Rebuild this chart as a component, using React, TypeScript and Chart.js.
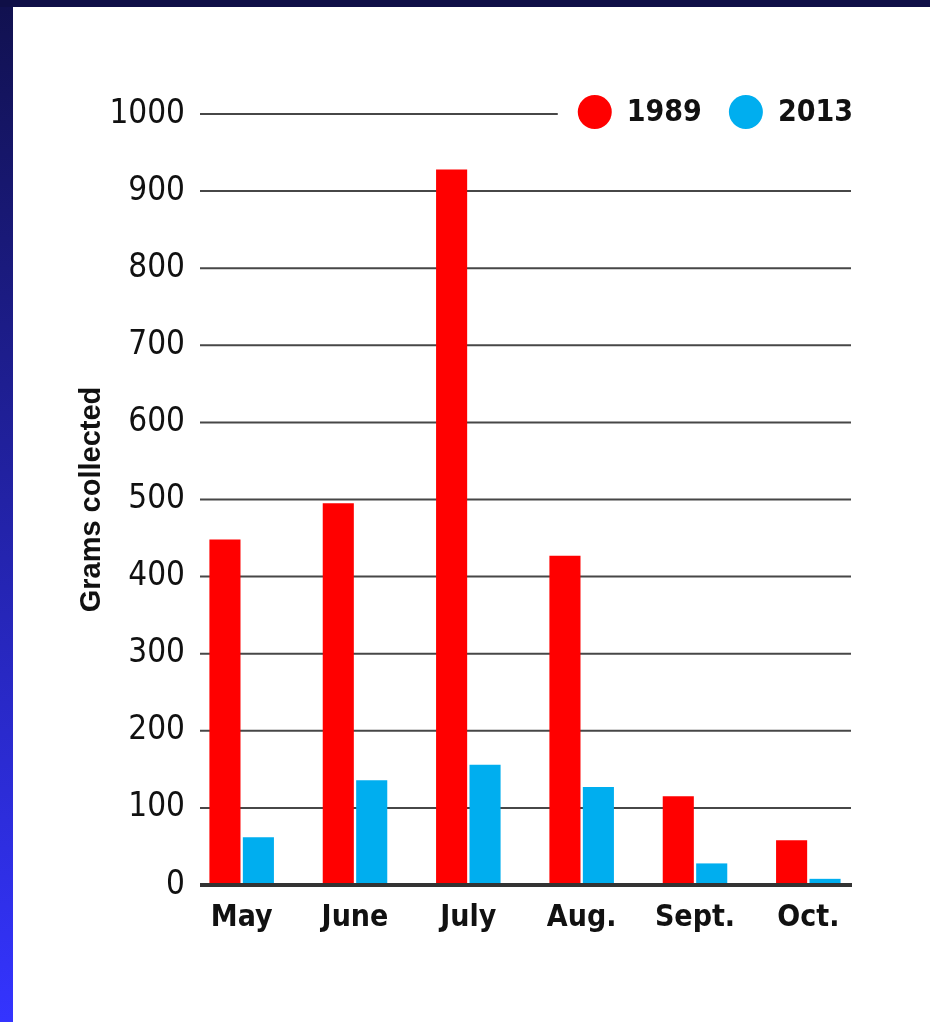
import React, { useEffect, useRef } from "react";
import { Chart, registerables } from "chart.js";

Chart.register(...registerables);

// ---- data ----
const months = ["May", "June", "July", "Aug.", "Sept.", "Oct."];
const seriesNames = ["1989", "2013"];
const grams1989 = [448, 495, 928, 427, 115, 58];
const grams2013 = [62, 136, 156, 127, 28, 8];
const yTickValues = [0, 100, 200, 300, 400, 500, 600, 700, 800, 900, 1000];
const yAxisTitle = "Grams collected";

// ---- style ----
const seriesColors = ["#ff0000", "#00aeef"];
const NARROW = "'Liberation Sans Narrow', 'DejaVu Sans Condensed', 'Liberation Sans', Arial, sans-serif";
const SANS = "'Liberation Sans', Arial, sans-serif";
const GRID_INSET_LEFT = 15;
const GRID_INSET_RIGHT = 14;
const LEGEND_FONT = `bold 30px ${NARROW}`;
const DOT_R = 17;

function legendLayout(chart: any) {
  const ctx = chart.ctx;
  const area = chart.chartArea;
  ctx.save();
  ctx.font = LEGEND_FONT;
  const items = chart.data.datasets.map((ds: any) => ({
    label: ds.label as string,
    color: ds.backgroundColor as string,
    w: ctx.measureText(ds.label).width,
  }));
  ctx.restore();
  let x = area.right - 12;
  const placed: any[] = [];
  for (let i = items.length - 1; i >= 0; i--) {
    const it = items[i];
    const textX = x - it.w;
    const cx = textX - 15 - DOT_R;
    placed.unshift({ ...it, textX, cx });
    x = cx - DOT_R - 27;
  }
  return { placed, start: placed[0].cx - DOT_R, y: area.top - 2 };
}

const gridPlugin = {
  id: "customGrid",
  beforeDatasetsDraw(chart: any) {
    const ctx = chart.ctx;
    const yScale = chart.scales.y;
    const area = chart.chartArea;
    const lg = legendLayout(chart);
    const xL = area.left + GRID_INSET_LEFT;
    const xR = area.right - GRID_INSET_RIGHT;
    ctx.save();
    ctx.strokeStyle = "#474747";
    ctx.lineWidth = 2;
    yScale.ticks.forEach((t: any) => {
      if (t.value === 0) return;
      const y = yScale.getPixelForValue(t.value);
      const end = Math.abs(y - lg.y) < 20 ? lg.start - 20 : xR;
      ctx.beginPath();
      ctx.moveTo(xL, y);
      ctx.lineTo(end, y);
      ctx.stroke();
    });
    ctx.restore();
  },
  afterDatasetsDraw(chart: any) {
    const ctx = chart.ctx;
    const yScale = chart.scales.y;
    const area = chart.chartArea;
    const y = yScale.getPixelForValue(0);
    ctx.save();
    ctx.strokeStyle = "#333333";
    ctx.lineWidth = 4;
    ctx.beginPath();
    ctx.moveTo(area.left + GRID_INSET_LEFT, y);
    ctx.lineTo(area.right - GRID_INSET_RIGHT + 1, y);
    ctx.stroke();
    ctx.restore();
  },
  afterDraw(chart: any) {
    const ctx = chart.ctx;
    const lg = legendLayout(chart);
    ctx.save();
    ctx.font = LEGEND_FONT;
    ctx.textBaseline = "middle";
    ctx.textAlign = "left";
    lg.placed.forEach((it: any) => {
      ctx.fillStyle = it.color;
      ctx.beginPath();
      ctx.arc(it.cx, lg.y, DOT_R, 0, Math.PI * 2);
      ctx.fill();
      ctx.fillStyle = "#111111";
      ctx.fillText(it.label, it.textX, lg.y + 1);
    });
    ctx.restore();
  },
};

function GramsChart() {
  const ref = useRef<HTMLCanvasElement | null>(null);
  useEffect(() => {
    if (!ref.current) return;
    const chart = new Chart(ref.current, {
      type: "bar",
      data: {
        labels: months,
        datasets: [
          {
            label: seriesNames[0],
            data: grams1989,
            backgroundColor: seriesColors[0],
            borderWidth: 0,
            categoryPercentage: 0.59,
            barPercentage: 0.93,
          },
          {
            label: seriesNames[1],
            data: grams2013,
            backgroundColor: seriesColors[1],
            borderWidth: 0,
            categoryPercentage: 0.59,
            barPercentage: 0.93,
          },
        ],
      },
      options: {
        responsive: false,
        animation: false,
        layout: { padding: { top: 107, right: 65, left: 0, bottom: 0 } },
        plugins: {
          legend: { display: false },
          tooltip: { enabled: false },
        },
        scales: {
          x: {
            grid: { display: false, drawTicks: false },
            border: { display: false },
            ticks: {
              color: "#111111",
              font: { family: NARROW, size: 30, weight: "bold" },
              padding: 15,
              maxRotation: 0,
              autoSkip: false,
            },
            afterFit(scale: any) {
              scale.height = 137;
            },
          },
          y: {
            min: 0,
            max: 1000,
            grid: { display: false, drawTicks: false },
            border: { display: false },
            afterBuildTicks(scale: any) {
              scale.ticks = yTickValues.map((v) => ({ value: v }));
            },
            ticks: {
              color: "#111111",
              font: { family: NARROW, size: 33 },
              padding: 0,
              callback: (v: any) => String(v),
            },
            title: {
              display: true,
              text: yAxisTitle,
              color: "#111111",
              font: { family: SANS, size: 29, weight: "bold" },
              padding: { top: 62, bottom: 0 },
            },
            afterFit(scale: any) {
              scale.width = 172;
            },
          },
        },
      },
      plugins: [gridPlugin],
    } as any);
    return () => chart.destroy();
  }, []);
  return <canvas ref={ref} width={917} height={1015} style={{ display: "block" }} />;
}

export default function App() {
  return (
    <div
      style={{
        position: "absolute",
        left: 0,
        top: 0,
        width: 930,
        height: 1022,
        background: "#0f0f47",
        overflow: "hidden",
      }}
    >
      <div
        style={{
          position: "absolute",
          left: 0,
          top: 7,
          width: 13,
          height: 1015,
          background: "linear-gradient(to bottom, #111150, #3434ff)",
        }}
      />
      <div
        style={{
          position: "absolute",
          left: 13,
          top: 7,
          width: 917,
          height: 1015,
          background: "#ffffff",
        }}
      >
        <GramsChart />
      </div>
    </div>
  );
}
